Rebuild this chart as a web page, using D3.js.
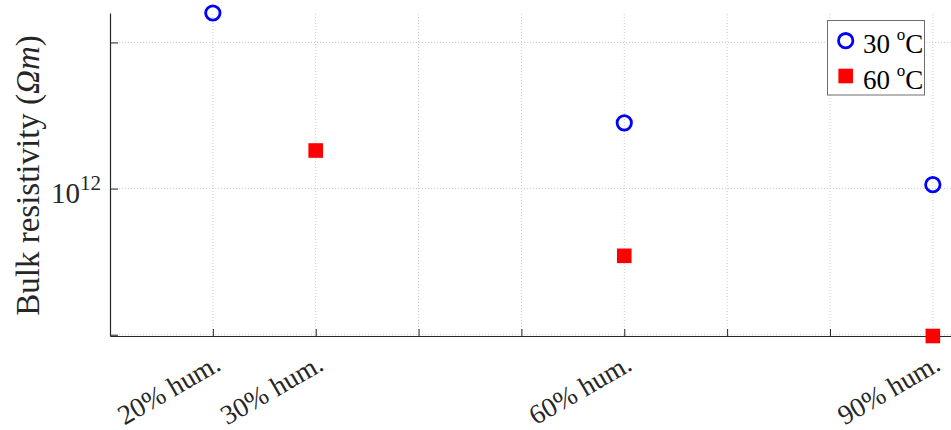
<!DOCTYPE html>
<html>
<head>
<meta charset="utf-8">
<script src="https://cdn.jsdelivr.net/npm/d3@7"></script>
<style>
	body { margin: 0; background: #fff; }
	svg { display: block; font-family: "Liberation Serif", "Times New Roman", serif; }
</style>
</head>
<body>
<svg id="chart" width="951" height="430"></svg>
<script>
var xTicks = [20, 30, 40, 50, 60, 70, 80, 90];
var xLabels = {20: "20% hum.", 30: "30% hum.", 60: "60% hum.", 90: "90% hum."};
var yTicks = [5e11, 1e12, 2e12];

var series = ["30", "60"];
var hum30 = [20, 60, 90];
var res30 = [2.30e12, 1.366e12, 1.019e12];
var hum60 = [30, 60, 90];
var res60 = [1.198e12, 0.727e12, 0.497e12];

(function () {
	var svg = d3.select("#chart");
	var axisColor = "#262626";

	var x = d3.scaleLinear()
		.domain([10, 92])
		.range([110, 953.4]);

	var y = d3.scaleLog()
		.domain([0.497e12, 2.30e12])
		.range([336, 13]);

	// grid
	var grid = svg.append("g")
		.attr("stroke", "#cccccc")
		.attr("stroke-width", 1)
		.attr("stroke-dasharray", "1,2");

	grid.selectAll(".vgrid")
		.data(xTicks)
		.enter().append("line")
		.attr("x1", function (d) { return x(d); })
		.attr("x2", function (d) { return x(d); })
		.attr("y1", y.range()[0])
		.attr("y2", y.range()[1]);

	grid.selectAll(".hgrid")
		.data(yTicks)
		.enter().append("line")
		.attr("x1", x.range()[0])
		.attr("x2", x.range()[1])
		.attr("y1", function (d) { return y(d); })
		.attr("y2", function (d) { return y(d); });

	// axes
	var xAxis = svg.append("g")
		.attr("transform", "translate(0," + y.range()[0] + ")")
		.call(d3.axisBottom(x).tickValues(xTicks).tickSize(-7).tickSizeOuter(0).tickFormat(""));

	var yAxis = svg.append("g")
		.attr("transform", "translate(" + x.range()[0] + ",0)")
		.call(d3.axisLeft(y).tickValues(yTicks).tickSize(-8).tickSizeOuter(0).tickFormat(""));

	[xAxis, yAxis].forEach(function (a) {
		a.select(".domain").attr("stroke", axisColor).attr("stroke-width", 1.2);
		a.selectAll(".tick line").attr("stroke", axisColor);
	});

	// x tick labels, rotated
	svg.selectAll(".xlabel")
		.data(xTicks.filter(function (d) { return xLabels[d]; }))
		.enter().append("text")
		.attr("class", "xlabel")
		.attr("transform", function (d) {
			return "translate(" + (x(d) + 9.5) + ",369) rotate(-30)";
		})
		.attr("text-anchor", "end")
		.attr("font-size", 27.5)
		.attr("fill", axisColor)
		.text(function (d) { return xLabels[d]; });

	// y tick label 10^12
	var yl = svg.append("text")
		.attr("x", 101)
		.attr("y", y(1e12) + 14)
		.attr("text-anchor", "end")
		.attr("font-size", 29)
		.attr("fill", axisColor);
	yl.append("tspan").text("10");
	yl.append("tspan").attr("dy", -13).attr("font-size", 21).text("12");

	// y axis title
	var yt = svg.append("text")
		.attr("transform", "translate(39,175.5) rotate(-90)")
		.attr("text-anchor", "middle")
		.attr("font-size", 33)
		.attr("fill", axisColor);
	yt.append("tspan").text("Bulk resistivity (");
	yt.append("tspan").attr("font-style", "italic").text("Ωm");
	yt.append("tspan").text(")");

	// points
	svg.selectAll(".p30")
		.data(hum30)
		.enter().append("circle")
		.attr("cx", function (d) { return x(d); })
		.attr("cy", function (d, i) { return y(res30[i]); })
		.attr("r", 7.2)
		.attr("fill", "none")
		.attr("stroke", "#0000ff")
		.attr("stroke-width", 2.8);

	svg.selectAll(".p60")
		.data(hum60)
		.enter().append("rect")
		.attr("x", function (d) { return x(d) - 7.3; })
		.attr("y", function (d, i) { return y(res60[i]) - 7.3; })
		.attr("width", 14.6)
		.attr("height", 14.6)
		.attr("fill", "#ff0000");

	// legend
	var lg = svg.append("g");
	lg.append("rect")
		.attr("x", 827.5)
		.attr("y", 20.5)
		.attr("width", 97)
		.attr("height", 74.5)
		.attr("fill", "#fff")
		.attr("stroke", "#6e6e6e")
		.attr("stroke-width", 1);

	lg.append("circle")
		.attr("cx", 845.7)
		.attr("cy", 40.7)
		.attr("r", 7.2)
		.attr("fill", "none")
		.attr("stroke", "#0000ff")
		.attr("stroke-width", 2.8);

	lg.append("rect")
		.attr("x", 845.7 - 7.3)
		.attr("y", 76 - 7.3)
		.attr("width", 14.6)
		.attr("height", 14.6)
		.attr("fill", "#ff0000");

	lg.selectAll(".ltext")
		.data(series)
		.enter().append("text")
		.attr("x", 863)
		.attr("y", function (d, i) { return 53 + i * 36; })
		.attr("font-size", 27)
		.attr("fill", "#000")
		.each(function (d) {
			var t = d3.select(this);
			t.append("tspan").text(d + " ");
			t.append("tspan").attr("dy", -13).attr("font-size", 17).text("o");
			t.append("tspan").attr("dy", 13).text("C");
		});
})();
</script>
</body>
</html>
